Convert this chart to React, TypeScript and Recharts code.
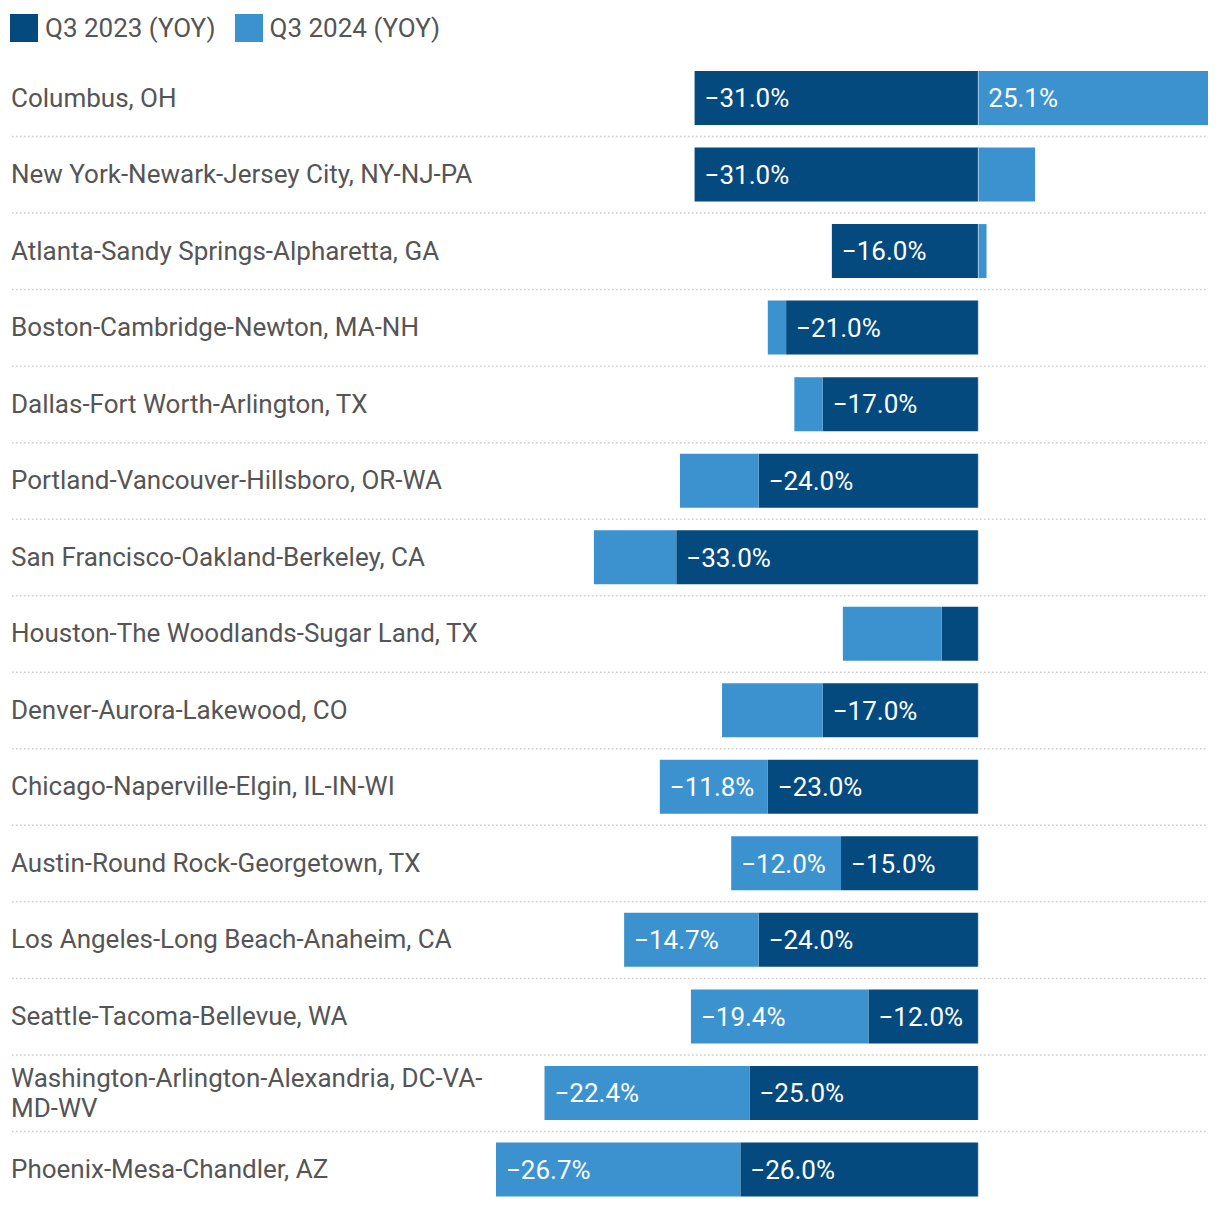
import React from 'react';
import { BarChart, Bar, XAxis, YAxis, LabelList, Legend, ReferenceLine } from 'recharts';

// metro areas, top to bottom
const metros = [
  'Columbus, OH',
  'New York-Newark-Jersey City, NY-NJ-PA',
  'Atlanta-Sandy Springs-Alpharetta, GA',
  'Boston-Cambridge-Newton, MA-NH',
  'Dallas-Fort Worth-Arlington, TX',
  'Portland-Vancouver-Hillsboro, OR-WA',
  'San Francisco-Oakland-Berkeley, CA',
  'Houston-The Woodlands-Sugar Land, TX',
  'Denver-Aurora-Lakewood, CO',
  'Chicago-Naperville-Elgin, IL-IN-WI',
  'Austin-Round Rock-Georgetown, TX',
  'Los Angeles-Long Beach-Anaheim, CA',
  'Seattle-Tacoma-Bellevue, WA',
  'Washington-Arlington-Alexandria, DC-VA-MD-WV',
  'Phoenix-Mesa-Chandler, AZ',
];

// YOY change, %
const q3_2023 = [-31, -31, -16, -21, -17, -24, -33, -4, -17, -23, -15, -24, -12, -25, -26];
const q3_2024 = [25.1, 6.2, 0.9, -2.0, -3.1, -8.6, -9.0, -10.8, -11.0, -11.8, -12.0, -14.7, -19.4, -22.4, -26.7];

const seriesNames = ['Q3 2023 (YOY)', 'Q3 2024 (YOY)'];
const DARK = '#044a7f';
const LIGHT = '#3b92cf';

const W = 1220;
const H = 1208;
const PLOT_TOP = 60;
const ROW_H = (H - PLOT_TOP) / metros.length;
const FONT = 'Roboto, sans-serif';
const FS = 26;

const rows = metros.map((metro, i) => ({
  metro,
  q3_2023: q3_2023[i],
  q3_2024: q3_2024[i],
}));

const fmt = (v: number) => (v < 0 ? '\u2212' : '') + Math.abs(v).toFixed(1) + '%';

// break long names at a hyphen/space
const wrapLabel = (s: string, max = 40) => {
  if (s.length <= max) return [s];
  const cut = Math.max(s.lastIndexOf('-', max - 1), s.lastIndexOf(' ', max - 1));
  return [s.slice(0, cut + 1).trimEnd(), s.slice(cut + 1)];
};

const MetroTick = (props: any) => {
  const { y, payload, index } = props;
  const lines = wrapLabel(String(payload.value));
  const lh = 30;
  const y0 = y - 1 - ((lines.length - 1) * lh) / 2;
  return (
    <g>
      <text x={11} y={y0} fill="#555" fontSize={FS} fontFamily={FONT} textAnchor="start">
        {lines.map((l, i) => (
          <tspan key={i} x={11} y={y0 + i * lh} dy="0.36em">
            {l}
          </tspan>
        ))}
      </text>
      {index < metros.length - 1 && (
        <line
          x1={12}
          x2={W - 12}
          y1={y + ROW_H / 2}
          y2={y + ROW_H / 2}
          stroke="#cdcdcd"
          strokeWidth={1.5}
          strokeDasharray="1.5 2.5"
        />
      )}
    </g>
  );
};

const renderValue = (props: any) => {
  const x = Number(props.x);
  const width = Number(props.width);
  const w = Math.abs(width);
  if (w < 104) return null;
  const left = Math.min(x, x + width);
  return (
    <text
      x={left + 10}
      y={Number(props.y) + Number(props.height) / 2}
      dy="0.36em"
      fill="#fff"
      fontSize={FS}
      fontFamily={FONT}
    >
      {fmt(Number(props.value))}
    </text>
  );
};

const LegendBox = (props: any) => (
  <div
    style={{
      display: 'flex',
      height: 48,
      paddingLeft: 10,
      paddingTop: 2,
      boxSizing: 'border-box',
      fontFamily: FONT,
      fontSize: FS,
      color: '#555',
    }}
  >
    {(props.payload || []).map((p: any) => (
      <div key={p.value} style={{ display: 'flex', alignItems: 'center', height: 28, marginRight: 19 }}>
        <span style={{ width: 28, height: 28, background: p.color, marginRight: 7, display: 'inline-block' }} />
        <span>{p.value}</span>
      </div>
    ))}
  </div>
);

export default function App() {
  return (
    <div style={{ position: 'absolute', left: 0, top: 0, width: W, height: H, background: '#fff' }}>
      <BarChart
        width={W}
        height={H}
        data={rows}
        layout="vertical"
        stackOffset="sign"
        margin={{ top: 12, right: 12, bottom: 0, left: 0 }}
      >
        <XAxis type="number" hide domain={['dataMin', 'dataMax']} />
        <YAxis
          type="category"
          dataKey="metro"
          width={496}
          axisLine={false}
          tickLine={false}
          interval={0}
          tick={(p: any) => <MetroTick {...p} />}
        />
        <Legend
          verticalAlign="top"
          align="left"
          content={(p: any) => <LegendBox {...p} />}
          wrapperStyle={{ top: 12, left: 0 }}
        />
        <Bar dataKey="q3_2023" name={seriesNames[0]} stackId="a" fill={DARK} barSize={54} isAnimationActive={false}>
          <LabelList dataKey="q3_2023" content={renderValue} />
        </Bar>
        <Bar dataKey="q3_2024" name={seriesNames[1]} stackId="a" fill={LIGHT} barSize={54} isAnimationActive={false}>
          <LabelList dataKey="q3_2024" content={renderValue} />
        </Bar>
        <ReferenceLine x={0} stroke="rgba(255,255,255,0.45)" strokeWidth={1} />
      </BarChart>
    </div>
  );
}
